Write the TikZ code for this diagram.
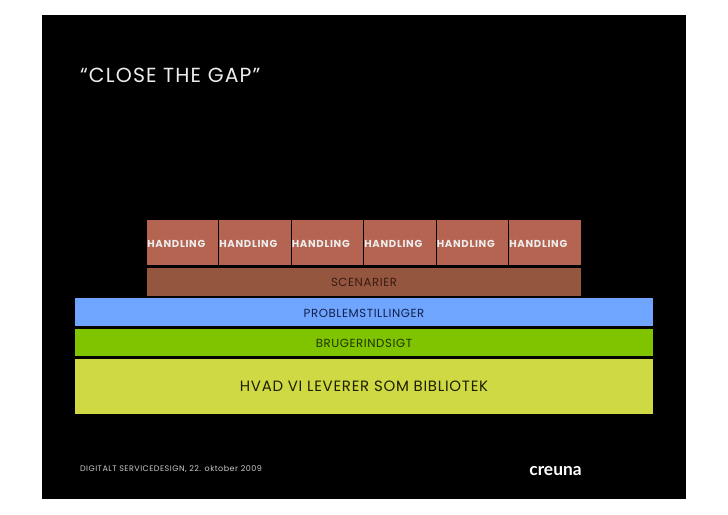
\documentclass[tikz,border=0pt]{standalone}
\usepackage{fontspec}
\setmainfont{Poppins}
\newfontfamily\logofont{Lato}
\definecolor{handfill}{HTML}{B46450}
\definecolor{scenfill}{HTML}{95563F}
\definecolor{probfill}{HTML}{70A5FF}
\definecolor{brugfill}{HTML}{80C400}
\definecolor{hvadfill}{HTML}{CFD944}
\definecolor{lighttxt}{HTML}{EDEDED}
\definecolor{scentxt}{HTML}{3A1A12}
\definecolor{probtxt}{HTML}{10204A}
\definecolor{brugtxt}{HTML}{1F3300}
\definecolor{hvadtxt}{HTML}{1C2000}
\tikzset{
  px/.style={x=0.75pt,y=-0.75pt},
  band/.style={inner sep=0pt,outer sep=0pt,anchor=north west},
  handbox/.style={band,fill=handfill,draw=black,line width=0.6pt,minimum width=54.4pt,minimum height=34.5pt},
  label/.style={inner sep=0pt,outer sep=0pt},
  handlabel/.style={label,anchor=west,text=lighttxt,xshift=0.6pt,yshift=-1.4pt,
    font=\fontsize{7.6pt}{9pt}\selectfont\bfseries\addfontfeatures{LetterSpace=7}},
  bandtext/.style={label,font=\fontsize{8.8pt}{10pt}\selectfont\addfontfeatures{LetterSpace=5}},
}
\begin{document}
\begin{tikzpicture}[px]
\useasboundingbox (0,0) rectangle (728,514);
\fill[white] (0,0) rectangle (728,514);
\node[band,fill=black,minimum width=483pt,minimum height=363pt] (slide) at (42,15) {};
\node[label,anchor=west,text=lighttxt,font=\fontsize{15.3pt}{17pt}\selectfont\addfontfeatures{LetterSpace=5.7}] (title) at (80,75.5) {“CLOSE THE GAP”};
\node[handbox] (h1) at (146.5,219) {};
\node[handbox] (h2) at (218.5,219) {};
\node[handbox] (h3) at (291,219) {};
\node[handbox] (h4) at (363.5,219) {};
\node[handbox] (h5) at (436,219) {};
\node[handbox] (h6) at (508.5,219) {};
\node[handlabel] (t1) at (h1.west) {HANDLING};
\node[handlabel] (t2) at (h2.west) {HANDLING};
\node[handlabel] (t3) at (h3.west) {HANDLING};
\node[handlabel] (t4) at (h4.west) {HANDLING};
\node[handlabel] (t5) at (h5.west) {HANDLING};
\node[handlabel] (t6) at (h6.west) {HANDLING};
\node[band,fill=scenfill,minimum width=325.5pt,minimum height=21.5pt] (scen) at (147,267.5) {};
\node[bandtext,text=scentxt] (scent) at (364,282.3) {SCENARIER};
\node[band,fill=probfill,minimum width=433.5pt,minimum height=21pt] (prob) at (75,298) {};
\node[bandtext,text=probtxt] (probt) at (364,313.3) {PROBLEMSTILLINGER};
\node[band,fill=brugfill,minimum width=433.5pt,minimum height=20.5pt] (brug) at (75,329) {};
\node[bandtext,text=brugtxt] (brugt) at (364,343.3) {BRUGERINDSIGT};
\node[band,fill=hvadfill,minimum width=433.5pt,minimum height=41.6pt] (hvad) at (75,358.5) {};
\node[label,text=hvadtxt,font=\fontsize{11.2pt}{13pt}\selectfont\addfontfeatures{LetterSpace=5}] (hvadt) at (364,386.3) {HVAD VI LEVERER SOM BIBLIOTEK};
\node[label,anchor=west,text=lighttxt!85!black,font=\fontsize{6pt}{7pt}\selectfont\addfontfeatures{LetterSpace=6}] (foot) at (80,469.5) {DIGITALT SERVICEDESIGN, 22. oktober 2009};
\node[label,text=white,font=\logofont\bfseries\fontsize{13pt}{15pt}\selectfont] (logo) at (555.5,471.5) {creuna};
\end{tikzpicture}
\end{document}
